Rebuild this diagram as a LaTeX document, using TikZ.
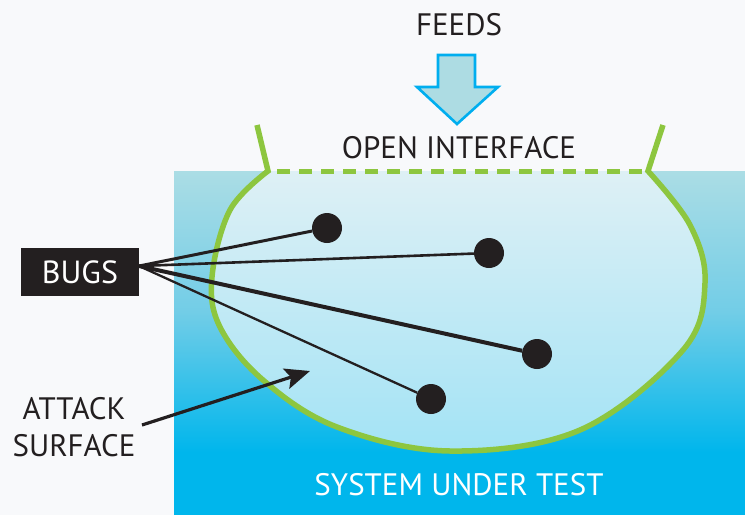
\documentclass[tikz,border=0pt]{standalone}
\usepackage{fontspec}
\setmainfont{PT Sans}
\usetikzlibrary{arrows.meta}
\definecolor{bg}{HTML}{F8F9FB}
\definecolor{ink}{HTML}{231F20}
\definecolor{grn}{HTML}{8DC63F}
\definecolor{cyanline}{HTML}{00AEEF}
\definecolor{arrowfill}{HTML}{ADDCE3}
\definecolor{systop}{HTML}{ABDDE5}
\definecolor{sysmid}{HTML}{72CDE7}
\definecolor{sysbot}{HTML}{00B6EC}
\definecolor{blobtop}{HTML}{DEF0F5}
\definecolor{blobbot}{HTML}{A3E3F5}
\tikzset{
  lbl/.style={font=\fontsize{31}{37}\selectfont, text=ink, inner sep=0pt},
  wlbl/.style={font=\fontsize{31}{37}\selectfont, text=white, inner sep=0pt},
  bug/.style={circle, fill=ink, minimum size=30pt, inner sep=0pt},
  bugline/.style={draw=ink},
  greenline/.style={draw=grn, line width=5.5pt, line join=miter},
}
\begin{document}
\begin{tikzpicture}[x=1pt,y=-1pt]
\useasboundingbox (0,0) rectangle (745,515);
\fill[bg] (0,0) rectangle (745,515);
% dome
\fill[white] (254,171) arc[start angle=180,end angle=0,x radius=205,y radius=63] -- cycle;
% system under test
\shade[top color=systop, bottom color=sysbot, middle color=sysmid] (174,171) rectangle (745,452);
\fill[sysbot] (174,451.5) rectangle (745,515);
% blob fill
\shade[top color=blobtop, bottom color=blobbot]
  plot[smooth, tension=0.6] coordinates {(268,171) (230,210) (212,277) (220,327) (263,380) (337,427) (450,451) (580,430) (683,350) (705,283) (690,225) (648,171)} -- cycle;
% blob outline
\draw[greenline] (257,125) -- plot[smooth, tension=0.6] coordinates {(268,171) (230,210) (212,277) (220,327) (263,380) (337,427) (450,451) (580,430) (683,350) (705,283) (690,225) (648,171)} -- (663,125);
\draw[grn, line width=5pt, dash pattern=on 13pt off 9pt, dash phase=-9pt] (268,171) -- (648,171);
% feeds arrow
\node[lbl] (feeds) at (459,25) {FEEDS};
\draw[cyanline, fill=arrowfill, line width=2.6pt, line join=miter]
  (438,55) -- (475,55) -- (475,87) -- (498,87) -- (457,124) -- (417,87) -- (438,87) -- cycle;
\node[lbl] (open) at (459,148) {OPEN INTERFACE};
% bugs
\node[fill=ink, minimum width=118pt, minimum height=48pt, inner sep=0pt] (bugs) at (80,272) {};
\node[wlbl, font=\fontsize{32}{37}\selectfont] at (bugs.center) {BUGS};
\coordinate (bo) at (139,266);
\node[bug] (d1) at (327,228) {};
\node[bug] (d2) at (489,253) {};
\node[bug] (d3) at (537,354) {};
\node[bug] (d4) at (431,399) {};
\draw[bugline, line width=3pt] (bo) -- (d1);
\draw[bugline, line width=2.6pt] (bo) -- (d2);
\draw[bugline, line width=4pt] (bo) -- (d3);
\draw[bugline, line width=2.3pt] (bo) -- (d4);
% attack surface
\node[lbl, align=center] (atk) at (74,427) {ATTACK\\SURFACE};
\coordinate (as) at (142,425);
\coordinate (at) at (310,371);
\draw[ink, line width=3.2pt, -{Stealth[length=25pt,width=21pt,inset=5pt]}] (as) -- (at);
% system under test label
\node[wlbl] (sut) at (459,485) {SYSTEM UNDER TEST};
\end{tikzpicture}
\end{document}
